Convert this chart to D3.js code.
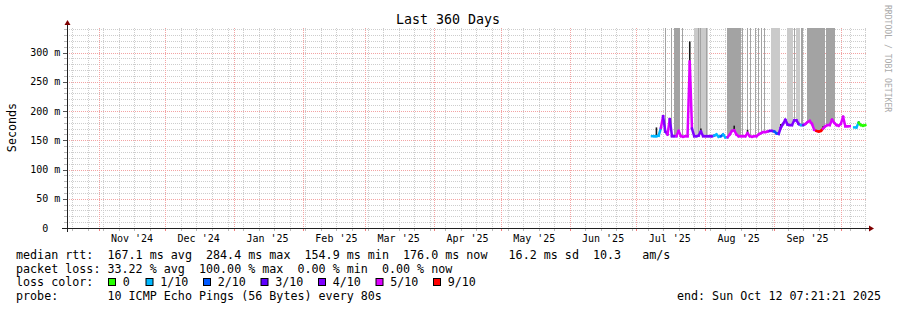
<!DOCTYPE html>
<html><head><meta charset="utf-8">
<script src="https://cdn.jsdelivr.net/npm/d3@7"></script>
<style>
html,body{margin:0;padding:0;background:#fff;}
svg{display:block;}
text{font-family:"DejaVu Sans Mono",monospace;white-space:pre;}
</style></head><body>
<svg id="c" width="897" height="310"></svg>
<script>
// ---------------- data ----------------
const chartTitle = "Last 360 Days";
const yAxisTitle = "Seconds";
const endTime = "2025-10-12T07:21:21Z";
const spanDays = 360;
const firstDay = "2025-07-08";          // first daily sample
// median RTT in ms, one value per day (null = no data)
const medianMs = [
  157,157,157,158,171,191,165,160,186,157,
  157,157,166,157,156,157,157,284.4,170,157,
  157,158,165,157,157,157,157,157,158,160,
  156,157,160,155,155,160,166,167,160,157,
  157,157,157,162,157,156,157,157,160,162,
  164,164,165,166,166,165,162,161,172,178,
  185,177,176,176,184,184,178,176,176,178,
  181,183,178,168,166,165,166,170,174,176,
  176,185,180,176,175,178,190,174,174,174,
  null,172,172,180,176,175,176
];
// packet loss per day (pings lost out of 10)
const lossPerDay = [
  1,1,1,1,1,5,4,4,5,4,
  4,4,5,5,5,5,5,5,5,4,
  4,4,4,4,4,4,4,4,4,1,
  1,1,2,1,1,5,5,5,5,5,
  5,5,5,5,5,5,5,5,5,5,
  5,5,5,5,4,4,2,2,4,4,
  4,4,4,4,4,4,4,4,1,4,
  5,5,5,5,5,9,9,9,5,5,
  5,5,5,5,5,5,5,5,5,5,
  0,1,1,1,0,0,0
];
// dense smoke spikes (day, top of dark smoke in ms)
const spikeDays = ["2025-07-10","2025-07-13","2025-07-16","2025-07-25","2025-07-30","2025-08-14","2025-08-20","2025-09-04","2025-09-23","2025-09-27","2025-10-02","2025-10-09"];
const spikeMs   = [172,192,188,319,170,175,168,178,174,187,192,183];
// smoke columns reaching beyond the top of the graph
const smokeFrom = ["2025-07-13T21:00","2025-07-16T14:00","2025-07-17T22:00","2025-07-21T12:00","2025-07-26T22:00","2025-07-28T17:00","2025-07-29T15:00","2025-08-01T02:00","2025-08-10T18:00","2025-08-17T12:00","2025-08-19T18:00","2025-08-21T03:00","2025-08-23T09:00","2025-08-24T17:00","2025-08-26T02:00","2025-08-27T10:00","2025-08-30T14:00","2025-09-06T18:00","2025-09-09T22:00","2025-09-10T20:00","2025-09-12T20:00","2025-09-15T18:00","2025-09-24T08:00"];
const smokeTo   = ["2025-07-14T08:00","2025-07-17T01:00","2025-07-20T15:00","2025-07-21T23:00","2025-08-02T05:00","2025-07-29T04:00","2025-07-30T02:00","2025-08-01T13:00","2025-08-17T02:00","2025-08-17T23:00","2025-08-20T05:00","2025-08-21T14:00","2025-08-23T20:00","2025-08-25T04:00","2025-08-26T13:00","2025-08-27T21:00","2025-09-03T15:00","2025-09-09T11:00","2025-09-10T09:00","2025-09-12T15:00","2025-09-13T23:00","2025-09-23T21:00","2025-09-28T09:00"];
const smokeShade = ["dark","dark","dark","dark","light","dark","dark","dark","dark","dark","dark","dark","dark","dark","dark","dark","light","light","dark","light","dark","dark","dark"];
const yTickValues = [0,50,100,150,200,250,300];
const lossLabels = ["0","1/10","2/10","3/10","4/10","5/10","9/10"];
const lossLevels = [0,1,2,3,4,5,9];
const lossColors = ["#26ff00","#00b8ff","#0059ff","#5e00ff","#7e00ff","#dd00ff","#ff0000"];
const rttStats = [167.1, 284.4, 154.9, 176.0, 16.2]; // avg max min now sd
const amps = 10.3;
const lossStats = [33.22, 100.00, 0.00, 0.00];      // avg max min now
const probeText = "10 ICMP Echo Pings (56 Bytes) every 80s";
const endText = "end: Sun Oct 12 07:21:21 2025";
const watermark = "RRDTOOL / TOBI OETIKER";

// ---------------- chart ----------------
const svg = d3.select("#c");
svg.append("rect").attr("width",897).attr("height",310).attr("fill","#fff");

const end = new Date(endTime);
const start = new Date(end.getTime() - spanDays*864e5);
const x = d3.scaleUtc().domain([start,end]).range([66,866]);
const y = d3.scaleLinear().domain([0,342]).range([228,28]);
const X0 = 67, X1 = 866, YT = 28, YB = 228;
const px = v => Math.round(v)+0.5;

const day0 = new Date(firstDay+"T00:00:00Z");
const days = d3.utcDay.range(day0, d3.utcDay.offset(day0, medianMs.length));
const colorOf = l => lossColors[lossLevels.indexOf(l)];
const minorC = "#cdcdcd", majorC = "#f3a3a3";

// grid
const g = svg.append("g");
d3.range(10,341,10).filter(v=>v%50!==0).forEach(v=>{
  g.append("line").attr("x1",X0).attr("x2",X1).attr("y1",px(y(v))).attr("y2",px(y(v)))
   .attr("stroke",minorC).attr("stroke-dasharray","1,1");
  g.append("line").attr("x1",X0-3).attr("x2",X0).attr("y1",px(y(v))).attr("y2",px(y(v))).attr("stroke","#bbb");
});
const weeks = d3.utcSunday.range(start,end);
weeks.forEach(t=>{
  g.append("line").attr("x1",px(x(t))).attr("x2",px(x(t))).attr("y1",YT).attr("y2",YB)
   .attr("stroke",minorC).attr("stroke-dasharray","1,1");
  g.append("line").attr("x1",px(x(t))).attr("x2",px(x(t))).attr("y1",YB).attr("y2",YB+3).attr("stroke","#bbb");
});
yTickValues.filter(v=>v>0).forEach(v=>{
  g.append("line").attr("x1",X0).attr("x2",X1).attr("y1",px(y(v))).attr("y2",px(y(v)))
   .attr("stroke",majorC).attr("stroke-dasharray","1,1");
});
yTickValues.forEach(v=>{
  g.append("line").attr("x1",X0-4).attr("x2",X0).attr("y1",px(y(v))).attr("y2",px(y(v))).attr("stroke","#555");
});
const months = d3.utcMonth.range(d3.utcMonth.ceil(start), end);
months.forEach(t=>{
  g.append("line").attr("x1",px(x(t))).attr("x2",px(x(t))).attr("y1",YT).attr("y2",YB)
   .attr("stroke",majorC).attr("stroke-dasharray","1,1");
  g.append("line").attr("x1",px(x(t))).attr("x2",px(x(t))).attr("y1",YB).attr("y2",YB+3).attr("stroke","#f08080");
});

// median lookup
function medianAt(t){
  const i = d3.bisectRight(days, t) - 1;
  const a = Math.max(0, Math.min(days.length-1, i));
  const b = Math.min(days.length-1, a+1);
  let va = medianMs[a], vb = medianMs[b];
  if (va==null) va = vb; if (vb==null) vb = va;
  const f = Math.max(0, Math.min(1, (t - days[a]) / 864e5));
  return va + (vb - va) * f;
}

// smoke columns
const smoke = svg.append("g").attr("shape-rendering","crispEdges");
smokeFrom.forEach((s,i)=>{
  const t0 = new Date(s+"Z"), t1 = new Date(smokeTo[i]+"Z");
  const pts = [t0, ...d3.utcHour.every(2).range(t0,t1), t1];
  const area = d3.area().x(t=>x(t)).y0(t=>y(medianAt(t))).y1(YT);
  smoke.append("path").attr("d", area(pts))
    .attr("fill", smokeShade[i]==="dark" ? "#a3a3a3" : "#cacaca");
});

// dark spikes
spikeDays.forEach((d,i)=>{
  const t = new Date(d+"T00:00:00Z");
  svg.append("line").attr("x1",x(t)).attr("x2",x(t))
    .attr("y1",y(medianAt(t))).attr("y2",y(spikeMs[i]))
    .attr("stroke","#1a1a1a").attr("stroke-width",1.6);
});

// median line coloured by loss
const line = d3.line().x(d=>x(d[0])).y(d=>y(d[1]));
const med = svg.append("g");
for (let i=1;i<days.length;i++){
  if (medianMs[i]==null || medianMs[i-1]==null) continue;
  med.append("path").attr("d", line([[days[i-1],medianMs[i-1]],[days[i],medianMs[i]]]))
    .attr("fill","none").attr("stroke",colorOf(lossPerDay[i])).attr("stroke-width",2.5)
    .attr("stroke-linecap","square");
}

// axes
svg.append("line").attr("x1",X0-5).attr("x2",871).attr("y1",YB+0.5).attr("y2",YB+0.5).attr("stroke","#202020");
svg.append("line").attr("x1",X0+0.5).attr("x2",X0+0.5).attr("y1",YB+4).attr("y2",24).attr("stroke","#202020");
svg.append("path").attr("d",`M${X0+0.5-3},25 L${X0+0.5+3},25 L${X0+0.5},20 Z`).attr("fill","#7f0000");
svg.append("path").attr("d",`M869,${YB+0.5-3} L869,${YB+0.5+3} L874,${YB+0.5} Z`).attr("fill","#7f0000");

// y tick labels
yTickValues.forEach(v=>{
  svg.append("text").attr("x",48.4).attr("y",y(v)+3.6).attr("text-anchor","end")
    .attr("font-size","10px").attr("fill","#000").text(String(v));
  if (v>0) svg.append("text").attr("x",54.2).attr("y",y(v)+3.6)
    .attr("font-size","10px").attr("fill","#000").text("m");
});
// x labels
const fmt = d3.utcFormat("%b '%y");
months.forEach(t=>{
  const c = d3.utcDay.offset(t,15);
  if (c < start || c > end) return;
  svg.append("text").attr("x",x(c)).attr("y",241.5).attr("text-anchor","middle")
    .attr("font-size","10px").attr("fill","#000").text(fmt(t));
});

// titles
svg.append("text").attr("x",448).attr("y",24).attr("text-anchor","middle")
  .attr("font-size","13.3px").attr("fill","#000").text(chartTitle);
svg.append("text").attr("transform","translate(15.5,127.5) rotate(-90)").attr("text-anchor","middle")
  .attr("font-size","11.7px").attr("fill","#000").text(yAxisTitle);
svg.append("text").attr("transform","translate(884.5,5) rotate(90)")
  .attr("font-size","8.1px").attr("fill","#aaaaaa").text(watermark);

// legend
const f1 = v=>v.toFixed(1), f2 = v=>v.toFixed(2);
const row1 = `median rtt:  ${f1(rttStats[0])} ms avg  ${f1(rttStats[1])} ms max  ${f1(rttStats[2])} ms min  ${f1(rttStats[3])} ms now   ${f1(rttStats[4])} ms sd  ${f1(amps)}   am/s`;
const row2 = `packet loss: ${f2(lossStats[0])} % avg  ${f2(lossStats[1])} % max  ${f2(lossStats[2])} % min  ${f2(lossStats[3])} % now`;
const row4 = `probe:       ${probeText}`;
const tx = (s,xx,yy,anchor)=>svg.append("text").attr("x",xx).attr("y",yy).attr("xml:space","preserve")
   .attr("text-anchor",anchor||"start").attr("font-size","11.7px").attr("fill","#000").text(s);
tx(row1,16,258.5);
tx(row2,16,272.5);
tx("loss color:",16,286.3);
tx(row4,16,300.2);
tx(endText,881,300.2,"end");
let bx = 108.5;
lossLabels.forEach((lab,i)=>{
  svg.append("rect").attr("x",bx).attr("y",278.5).attr("width",7).attr("height",7)
    .attr("fill",lossColors[i]).attr("stroke","#000").attr("stroke-width",1);
  tx(lab,bx+14.2,286.3);
  bx += (i===0 ? 37.5 : 57.5);
});
</script>
</body></html>
